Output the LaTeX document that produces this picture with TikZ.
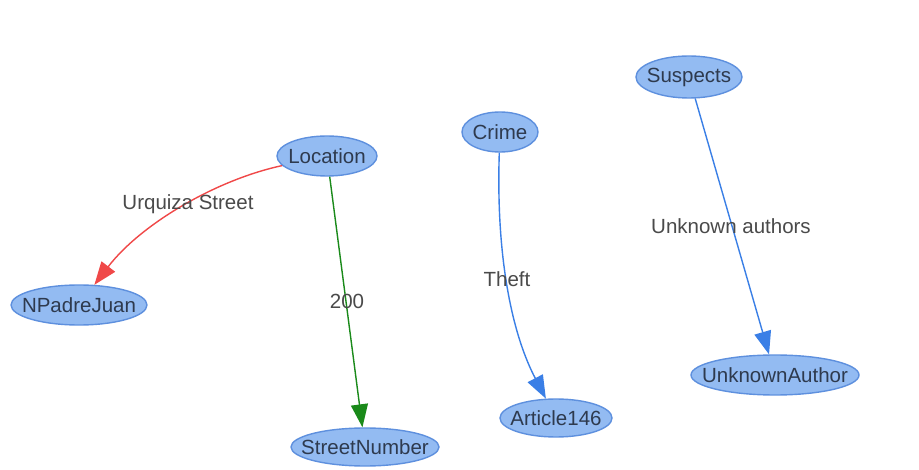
\documentclass[tikz,border=0pt]{standalone}
\usepackage{fontspec}
\setmainfont{Liberation Sans}
\usetikzlibrary{arrows.meta,shapes.geometric}
\definecolor{nodefill}{HTML}{93BBF2}
\definecolor{nodeline}{HTML}{5E90DE}
\definecolor{nodetext}{HTML}{2E3A4E}
\definecolor{labeltext}{HTML}{4A4A4A}
\definecolor{edgeblue}{HTML}{3A7FE6}
\definecolor{edgered}{HTML}{F04848}
\definecolor{edgegreen}{HTML}{1A8A1A}
% zero-width text box so the ellipse keeps its given size
\newcommand\ctext[1]{\makebox[0pt]{#1}}
\tikzset{
  concept/.style={ellipse, draw=nodeline, fill=nodefill, line width=1.4pt,
    text=nodetext, font=\fontsize{20.5}{24}\selectfont, inner sep=0pt},
  rel/.style={line width=1.4pt, -{Triangle[length=23pt,width=17pt]}},
  rellabel/.style={text=labeltext, font=\fontsize{20.5}{24}\selectfont, inner sep=1pt}
}
\begin{document}
\begin{tikzpicture}[x=1pt,y=-1pt]
\useasboundingbox (0,0) rectangle (919,470);
\fill[white] (0,0) rectangle (919,470);

% concept nodes (fixed ellipse sizes, text centred inside)
\node[concept, minimum width=100pt, minimum height=40pt] (loc) at (327,156) {\ctext{Location}};
\node[concept, minimum width=136pt, minimum height=40pt] (npj) at (79,305) {\ctext{NPadreJuan}};
\node[concept, minimum width=148pt, minimum height=38pt] (sn) at (365,447) {\ctext{StreetNumber}};
\node[concept, minimum width=76pt, minimum height=40pt] (crime) at (500,132) {\ctext{Crime}};
\node[concept, minimum width=112pt, minimum height=38pt] (art) at (556,418) {\ctext{Article146}};
\node[concept, minimum width=106pt, minimum height=42pt] (sus) at (689,77) {\ctext{Suspects}};
\node[concept, minimum width=168pt, minimum height=40pt] (ua) at (775,375) {\ctext{UnknownAuthor}};

% relations
\draw[rel, edgered] (loc) .. controls (215,180) and (140,225) .. (npj);
\draw[rel, edgegreen] (loc) -- (sn);
\draw[rel, edgeblue] (crime) .. controls (496,250) and (510,330) .. (art);
\draw[rel, edgeblue] (sus) -- (ua);

% relation labels
\node[rellabel] (l1) at (188,204) {Urquiza Street};
\node[rellabel] (l2) at (347,301) {200};
\node[rellabel] (l3) at (507,279) {Theft};
\node[rellabel] (l4) at (731,226) {Unknown authors};
\end{tikzpicture}
\end{document}
